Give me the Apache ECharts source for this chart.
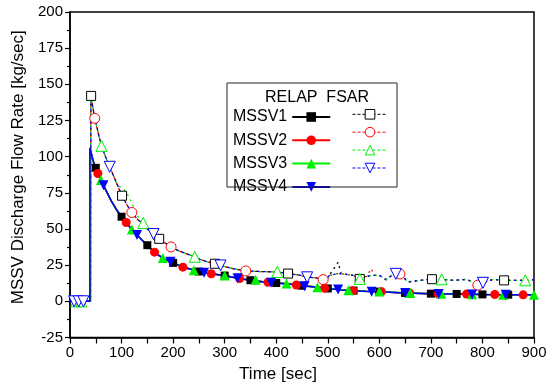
<!DOCTYPE html>
<html><head><meta charset="utf-8">
<script src="https://cdn.jsdelivr.net/npm/echarts@6/dist/echarts.min.js"></script>
<style>html,body{margin:0;padding:0;background:#fff}#c{width:552px;height:385px}</style>
</head><body><div id="c"></div>
<script>
// ---- tick settings ----
const xMin = 0, xMax = 900, xStep = 100;
const yMin = -25, yMax = 200, yStep = 25;

// ---- RELAP curves [time s, flow kg/s] ----
const relap1 = [[0,0],[38.5,0],[38.6,106],[40,104],[45,97],[50,92.3],[55,88],[60,84],[65,80],[70,76.5],[80,69.5],[90,63.5],[100,58.5],[110,54],[120,49.5],[130,46],[140,42.2],[150,38.8],[160,35.3],[170,32.3],[180,30],[190,28.2],[200,26.6],[220,23.6],[240,21.6],[260,19.8],[280,18.8],[300,17.8],[325,16],[350,14.6],[375,13.5],[400,12.7],[425,12.2],[450,10.8],[475,10],[500,8.9],[525,8],[550,7.4],[575,6.9],[600,6.7],[650,5.8],[700,5.3],[750,5.1],[800,4.8],[850,4.6],[900,4.5]];
const relap2 = [[0,0],[38.5,0],[38.6,106],[40,104],[45,97],[50,92],[55,88.2],[60,84],[65,80.2],[70,76.5],[80,69.5],[90,63.3],[100,58.3],[110,54.3],[120,49.5],[130,46],[140,42],[150,38.6],[160,35],[170,32.2],[180,29.9],[190,28.1],[200,26.5],[220,23.5],[240,21.6],[260,19.8],[280,18.9],[300,17.7],[325,16],[350,14.6],[375,13.4],[400,12.6],[425,12.1],[450,10.9],[475,9.9],[500,8.8],[525,8],[550,7.4],[575,6.9],[600,6.6],[650,5.8],[700,5.3],[750,5.1],[800,4.8],[850,4.6],[900,4.5]];
const relap3 = [[0,0],[38.5,0],[38.6,106],[40,104],[45,97],[50,92],[55,88],[60,83.8],[65,80],[70,76.4],[80,69.4],[90,63.4],[100,58.4],[110,54],[120,49.6],[130,46],[140,42.1],[150,38.7],[160,35.2],[170,32.3],[180,30],[190,28.2],[200,26.6],[220,23.6],[240,21.5],[260,19.8],[280,18.8],[300,17.9],[325,16],[350,14.7],[375,13.5],[400,12.7],[425,12.2],[450,10.8],[475,10],[500,8.9],[525,8.1],[550,7.5],[575,7],[600,6.8],[650,5.8],[700,5.3],[750,5.1],[800,4.8],[850,4.6],[900,4.5]];
const relap4 = [[0,0],[38.5,0],[38.6,106],[40,104],[45,97],[50,92.2],[55,88],[60,84],[65,80.3],[70,76.5],[80,69.5],[90,63.5],[100,58.5],[110,54],[120,49.5],[130,45.8],[140,42.2],[150,38.8],[160,35.3],[170,32.3],[180,30],[190,28.2],[200,26.6],[220,23.6],[240,21.6],[260,19.7],[280,18.8],[300,17.8],[325,15.9],[350,14.6],[375,13.4],[400,12.5],[425,12],[450,10.6],[475,9.9],[500,8.8],[525,7.9],[550,7.3],[575,6.8],[600,6.6],[650,5.8],[700,5.2],[750,5],[800,4.8],[850,4.6],[900,4.5]];

// ---- FSAR curves ----
const fsar1 = [[0,0],[40,0],[40.5,142],[48,126.5],[55,116],[61,107.5],[70,99],[77,93],[90,82],[101,73],[110,67],[120,61.4],[130,57],[142,53.5],[150,50],[162,46.5],[173,43.2],[185,40.2],[196,37.6],[210,35],[225,33],[242,30.8],[252,29],[265,27.5],[281,26],[292,24.8],[316,22.6],[341,21],[368,20.6],[402,20.3],[423,19.2],[447,18],[460,16.6],[475,16.4],[491,15],[500,16],[510,22],[515,24],[520,27],[526,19],[529,19],[549,18],[562,15.5],[575,17.3],[590,18],[600,18],[613,15],[629,19.2],[642,18.8],[655,13.4],[679,14.5],[702,15.3],[721,15.2],[744,14.5],[770,15.2],[791,11.2],[805,13.4],[821,15.2],[842,14.5],[863,14.5],[883,14.5],[900,15]];
const fsar2 = [[0,0],[40,0],[40.5,142],[48,126.5],[55,116],[61,107.5],[70,99],[77,93],[90,82],[101,73],[110,67],[120,61.4],[130,57],[142,53.5],[150,50],[162,46.5],[173,43.2],[185,40.2],[196,37.6],[210,35],[225,33],[242,30.8],[252,29],[265,27.5],[281,26],[292,24.8],[316,22.6],[341,21],[368,20.6],[402,20.3],[423,19.2],[447,18],[460,16.6],[475,16.4],[491,15],[504,18],[520,19.2],[529,19],[549,18],[562,15.5],[575,17.3],[580,20],[584,22.6],[590,18],[600,18],[613,15],[629,19.2],[642,18.8],[655,13.4],[679,14.5],[702,15.3],[721,15.2],[744,14.5],[770,15.2],[791,11.2],[805,13.4],[821,15.2],[842,14.5],[863,14.5],[883,14.5],[900,15]];
const fsar3 = [[0,0],[40,0],[40.5,142],[48,126.5],[55,116],[61,107.5],[70,99],[77,93],[90,82],[96,79.5],[103,78],[110,75],[120,68],[132,58.5],[142,54.2],[150,50],[162,46.5],[173,43.2],[185,40.2],[196,37.6],[210,35],[225,33],[242,30.8],[252,29],[265,27.5],[281,26],[292,24.8],[316,22.6],[341,21],[368,20.6],[402,20.3],[423,19.2],[447,18],[460,16.6],[475,16.4],[491,15],[504,18],[520,19.2],[529,19],[549,18],[562,15.5],[575,17.3],[590,18],[600,18],[613,15],[629,19.2],[642,18.8],[655,13.4],[679,14.5],[702,15.3],[721,15.2],[744,14.5],[770,15.2],[791,11.2],[805,13.4],[821,15.2],[842,14.5],[863,14.5],[883,14.5],[900,15]];
const fsar4 = [[0,0],[40,0],[40.5,142],[48,126.5],[55,116],[61,107.5],[70,99],[77,93],[90,82],[101,73],[110,67],[120,61.4],[130,57],[142,53.5],[150,50],[162,46.5],[173,43.2],[185,40.2],[196,37.6],[210,35],[225,33],[242,30.8],[252,29],[265,27.5],[281,26],[292,24.8],[316,22.6],[341,21],[368,20.6],[402,20.3],[423,19.2],[447,18],[460,16.6],[475,16.4],[491,15],[504,18],[520,19.2],[529,19],[549,18],[562,15.5],[575,17.3],[590,18],[600,18],[613,15],[629,19.2],[642,18.8],[655,13.4],[679,14.5],[702,15.3],[721,15.2],[744,14.5],[770,15.2],[791,11.2],[805,13.4],[821,15.2],[842,14.5],[863,14.5],[883,14.5],[900,15]];

// ---- marker points ----
const relap1Marks = [[50,92.3],[100,58.5],[150,38.8],[200,26.6],[250,20.6],[300,17.8],[350,14.6],[400,12.7],[450,10.8],[500,8.9],[550,7.4],[600,6.7],[650,5.8],[700,5.3],[750,5.1],[800,4.8],[850,4.6]];
const relap2Marks = [[54,88.4],[109,54.5],[164,34],[219,23.6],[274,19.1],[329,15.8],[384,13.2],[439,11.3],[494,9.1],[549,7.4],[604,6.6],[659,5.7],[714,5.2],[769,5],[824,4.7],[879,4.5]];
const relap3Marks = [[60,83.8],[120,49.6],[180,30],[240,21.5],[300,17.9],[360,14.9],[420,12.3],[480,9.8],[540,7.7],[600,6.8],[660,5.7],[720,5.2],[780,4.9],[840,4.6],[900,4.5]];
const relap4Marks = [[65,80.3],[130,45.8],[195,27.4],[260,19.7],[325,15.9],[390,12.8],[455,10.5],[520,8.1],[585,6.7],[650,5.8],[715,5.1],[780,4.8],[845,4.6]];
const fsar1Marks = [[41,142],[101,73],[173,43.2],[281,26],[423,19.2],[562,15.5],[702,15.3],[842,14.5]];
const fsar2Marks = [[48,126.5],[120,61.4],[196,37.6],[341,21],[491,15],[640,18.9],[791,11.2]];
const fsar3Marks = [[12,0],[22,0],[61,107.5],[142,54.2],[242,30.8],[402,20.3],[562,15.5],[721,15.2],[883,14.5]];
const fsar4Marks = [[8,0],[17,0],[26,0],[77,93],[162,46.5],[292,24.8],[460,16.6],[632,19],[801,12.8]];

const names = ['MSSV1','MSSV2','MSSV3','MSSV4'];
const fsarNames = ['FSAR1','FSAR2','FSAR3','FSAR4'];
const colors = ['#000000','#ff0000','#00ee00','#0000ff'];
const symbols = ['rect','circle','triangle','triangle'];
const rotates = [0,0,0,180];
const sizes = [8,9,10,10];

const relapCurves = [relap1, relap2, relap3, relap4];
const fsarCurves = [fsar1, fsar2, fsar3, fsar4];
const relapMarks = [relap1Marks, relap2Marks, relap3Marks, relap4Marks];
const fsarMarks = [fsar1Marks, fsar2Marks, fsar3Marks, fsar4Marks];

const FONT = 'Liberation Sans, Arial, sans-serif';
const series = [];
// FSAR dashed lines
for (let i = 0; i < 4; i++) {
  series.push({
    name: fsarNames[i], type: 'line', data: fsarCurves[i], showSymbol: false,
    symbol: symbols[i], symbolRotate: rotates[i], symbolSize: sizes[i],
    itemStyle: {color: '#ffffff', borderColor: colors[i], borderWidth: 1},
    lineStyle: {color: colors[i], width: 1.3, type: [2, 4], dashOffset: i * 1.5},
    z: 2, silent: true, animation: false
  });
}
// RELAP solid lines
for (let i = 0; i < 4; i++) {
  series.push({
    name: names[i], type: 'line', data: relapCurves[i], showSymbol: false,
    symbol: symbols[i], symbolRotate: rotates[i], symbolSize: sizes[i],
    itemStyle: {color: colors[i]},
    lineStyle: {color: colors[i], width: 1.5},
    z: 3, silent: true, animation: false
  });
}
// markers
for (let i = 0; i < 4; i++) {
  series.push({
    name: 'fm' + i, type: 'scatter', data: fsarMarks[i],
    symbol: symbols[i], symbolRotate: rotates[i], symbolSize: sizes[i] + 1,
    itemStyle: {color: '#ffffff', borderColor: colors[i], borderWidth: 1, opacity: 1},
    z: 4, silent: true, animation: false
  });
}
for (let i = 0; i < 4; i++) {
  series.push({
    name: 'rm' + i, type: 'scatter', data: relapMarks[i],
    symbol: symbols[i], symbolRotate: rotates[i], symbolSize: sizes[i],
    itemStyle: {color: colors[i], opacity: 1},
    z: 5, silent: true, animation: false
  });
}

const chart = echarts.init(document.getElementById('c'), null, {renderer: 'canvas'});
chart.setOption({
  animation: false,
  backgroundColor: '#ffffff',
  grid: {left: 70, right: 18, top: 12, bottom: 47.5, show: true, borderColor: '#000', borderWidth: 1.5,
         backgroundColor: 'transparent', containLabel: false, outerBoundsMode: 'none'},
  xAxis: {
    type: 'value', min: xMin, max: xMax, interval: xStep,
    name: 'Time [sec]', nameLocation: 'middle', nameGap: 27,
    nameTextStyle: {fontFamily: FONT, fontSize: 17, color: '#000', padding: [0, 48, 0, 0]},
    axisLine: {show: true, onZero: false, lineStyle: {color: '#000', width: 1.5}},
    axisTick: {show: true, inside: false, length: 6, lineStyle: {color: '#000', width: 1.2}},
    minorTick: {show: true, splitNumber: 2, length: 6, lineStyle: {color: '#000', width: 1.2}},
    axisLabel: {fontFamily: FONT, fontSize: 15, color: '#000', margin: 8},
    splitLine: {show: false}
  },
  yAxis: {
    type: 'value', min: yMin, max: yMax, interval: yStep,
    name: 'MSSV Discharge Flow Rate [kg/sec]', nameLocation: 'middle', nameGap: 42,
    nameTextStyle: {fontFamily: FONT, fontSize: 17, color: '#000', padding: [0, 0, 0, 15]},
    axisLine: {show: true, onZero: false, lineStyle: {color: '#000', width: 1.5}},
    axisTick: {show: true, inside: false, length: 5, lineStyle: {color: '#000', width: 1.2}},
    minorTick: {show: true, splitNumber: 2, length: 3, lineStyle: {color: '#000', width: 1.2}},
    axisLabel: {fontFamily: FONT, fontSize: 15, color: '#000', margin: 7},
    splitLine: {show: false}
  },
  legend: [
    {
      data: names, orient: 'vertical', left: 233, top: 109, padding: 0,
      align: 'right', itemWidth: 38, itemHeight: 12, itemGap: 7.3, selectedMode: false,
      textStyle: {fontFamily: FONT, fontSize: 16, color: '#000', lineHeight: 12}
    },
    {
      data: fsarNames, orient: 'vertical', left: 352, top: 109, padding: 0,
      itemWidth: 35, itemHeight: 12, itemGap: 7.3, selectedMode: false,
      formatter: function () { return ''; },
      lineStyle: {type: [3, 2], dashOffset: 0, width: 1},
      itemStyle: {borderWidth: 1},
      textStyle: {fontFamily: FONT, fontSize: 16, color: '#000', lineHeight: 12}
    }
  ],
  graphic: [
    {type: 'rect', shape: {x: 227, y: 83, width: 170, height: 104}, style: {fill: 'none', stroke: '#222', lineWidth: 1}, z: 10, silent: true},
    {type: 'text', x: 265, y: 98, style: {text: 'RELAP  FSAR', font: '16px ' + FONT, fill: '#000', verticalAlign: 'middle'}, z: 10, silent: true}
  ],
  series: series
});
</script>
</body></html>
